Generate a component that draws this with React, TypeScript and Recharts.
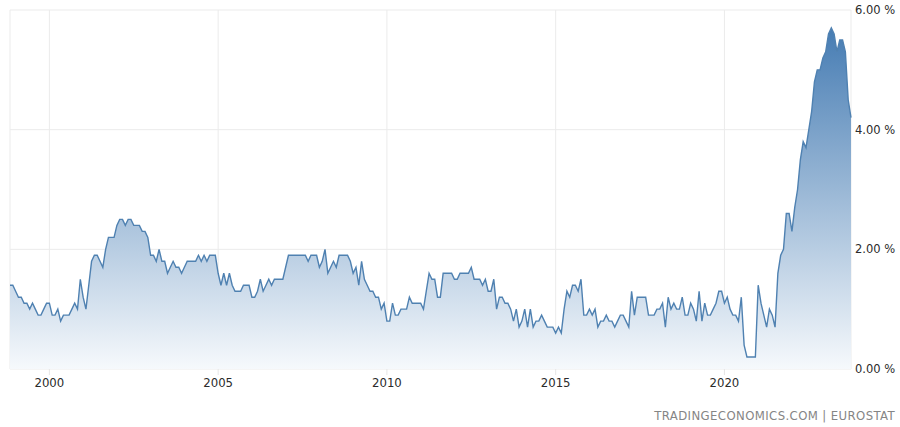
import { ReactElement } from 'react'
import { Area, AreaChart, CartesianGrid, XAxis, YAxis } from 'recharts'

// monthly series, first value is Nov 1998
const startYear = 1998
const startMonth = 10

const coreRate = [
  1.4, 1.4,
  1.3, 1.2, 1.2, 1.1, 1.1, 1.0, 1.1, 1.0, 0.9, 0.9, 1.0, 1.1, // 1999
  1.1, 0.9, 0.9, 1.0, 0.8, 0.9, 0.9, 0.9, 1.0, 1.1, 1.0, 1.5, // 2000
  1.2, 1.0, 1.4, 1.8, 1.9, 1.9, 1.8, 1.7, 2.0, 2.2, 2.2, 2.2, // 2001
  2.4, 2.5, 2.5, 2.4, 2.5, 2.5, 2.4, 2.4, 2.4, 2.3, 2.3, 2.2, // 2002
  1.9, 1.9, 1.8, 2.0, 1.8, 1.8, 1.6, 1.7, 1.8, 1.7, 1.7, 1.6, // 2003
  1.7, 1.8, 1.8, 1.8, 1.8, 1.9, 1.8, 1.9, 1.8, 1.9, 1.9, 1.9, // 2004
  1.6, 1.4, 1.6, 1.4, 1.6, 1.4, 1.3, 1.3, 1.3, 1.4, 1.4, 1.4, // 2005
  1.2, 1.2, 1.3, 1.5, 1.3, 1.4, 1.5, 1.4, 1.5, 1.5, 1.5, 1.5, // 2006
  1.7, 1.9, 1.9, 1.9, 1.9, 1.9, 1.9, 1.9, 1.8, 1.9, 1.9, 1.9, // 2007
  1.7, 1.8, 2.0, 1.6, 1.7, 1.8, 1.7, 1.9, 1.9, 1.9, 1.9, 1.8, // 2008
  1.6, 1.7, 1.4, 1.8, 1.5, 1.4, 1.3, 1.3, 1.2, 1.2, 1.0, 1.1, // 2009
  0.8, 0.8, 1.1, 0.9, 0.9, 1.0, 1.0, 1.0, 1.2, 1.1, 1.1, 1.1, // 2010
  1.1, 1.0, 1.3, 1.6, 1.5, 1.5, 1.2, 1.2, 1.6, 1.6, 1.6, 1.6, // 2011
  1.5, 1.5, 1.6, 1.6, 1.6, 1.6, 1.7, 1.5, 1.5, 1.5, 1.4, 1.5, // 2012
  1.3, 1.3, 1.5, 1.0, 1.2, 1.2, 1.1, 1.1, 1.0, 0.8, 1.0, 0.7, // 2013
  0.8, 1.0, 0.7, 1.0, 0.7, 0.8, 0.8, 0.9, 0.8, 0.7, 0.7, 0.7, // 2014
  0.6, 0.7, 0.6, 1.0, 1.3, 1.2, 1.4, 1.4, 1.3, 1.5, 0.9, 0.9, // 2015
  1.0, 0.9, 1.0, 0.7, 0.8, 0.8, 0.9, 0.8, 0.8, 0.7, 0.8, 0.9, // 2016
  0.9, 0.8, 0.7, 1.3, 0.9, 1.2, 1.2, 1.2, 1.2, 0.9, 0.9, 0.9, // 2017
  1.0, 1.0, 1.1, 0.7, 1.2, 1.0, 1.1, 1.0, 1.0, 1.2, 0.9, 0.9, // 2018
  1.1, 1.0, 0.8, 1.3, 0.8, 1.1, 0.9, 0.9, 1.0, 1.1, 1.3, 1.3, // 2019
  1.1, 1.2, 1.0, 0.9, 0.9, 0.8, 1.2, 0.4, 0.2, 0.2, 0.2, 0.2, // 2020
  1.4, 1.1, 0.9, 0.7, 1.0, 0.9, 0.7, 1.6, 1.9, 2.0, 2.6, 2.6, // 2021
  2.3, 2.7, 3.0, 3.5, 3.8, 3.7, 4.0, 4.3, 4.8, 5.0, 5.0, 5.2, // 2022
  5.3, 5.6, 5.7, 5.6, 5.3, 5.5, 5.5, 5.3, 4.5, 4.2, // 2023
]

const yearTicks = [2000, 2005, 2010, 2015, 2020]
const rateTicks = [0, 2, 4, 6]

const data = coreRate.map((v, i) => ({
  t: startYear + (startMonth + i) / 12,
  v,
}))

export default function App(): ReactElement {
  return (
    <div style={{ position: 'absolute', left: 0, top: 0, width: 900, height: 427, background: '#fff' }}>
      <AreaChart
        width={900}
        height={427}
        data={data}
        margin={{ top: 10, right: 0, bottom: 28, left: 10 }}
      >
        <defs>
          <linearGradient id="areaFill" x1="0" y1="0" x2="0" y2="1">
            <stop offset="0%" stopColor="#467cb3" />
            <stop offset="100%" stopColor="#f6f9fc" />
          </linearGradient>
        </defs>
        <CartesianGrid stroke="#ebebeb" strokeWidth={1} />
        <XAxis
          type="number"
          dataKey="t"
          domain={['dataMin', 'dataMax']}
          ticks={yearTicks}
          tickFormatter={(y) => String(y)}
          axisLine={false}
          tickLine={{ stroke: '#e6e6e6' }}
          tickSize={6}
          tickMargin={3}
          height={30}
          tick={{ fill: '#2b2b2b', fontSize: 13, fontFamily: 'DejaVu Sans Condensed' }}
        />
        <YAxis
          orientation="right"
          domain={[0, 6]}
          ticks={rateTicks}
          tickFormatter={(v) => `${v.toFixed(2)} %`}
          axisLine={false}
          tickLine={false}
          tickSize={0}
          tickMargin={4}
          width={49}
          tick={{ fill: '#2b2b2b', fontSize: 11.5, fontFamily: 'DejaVu Sans' }}
        />
        <Area
          type="linear"
          dataKey="v"
          stroke="#4f81b1"
          strokeWidth={1.4}
          fill="url(#areaFill)"
          fillOpacity={1}
          isAnimationActive={false}
          dot={false}
          activeDot={false}
        />
      </AreaChart>
      <div
        style={{
          position: 'absolute',
          right: 5,
          top: 408,
          fontFamily: 'DejaVu Sans Condensed',
          fontSize: 13,
          letterSpacing: 0.4,
          lineHeight: '15px',
          color: '#858585',
        }}
      >
        TRADINGECONOMICS.COM | EUROSTAT
      </div>
    </div>
  )
}
